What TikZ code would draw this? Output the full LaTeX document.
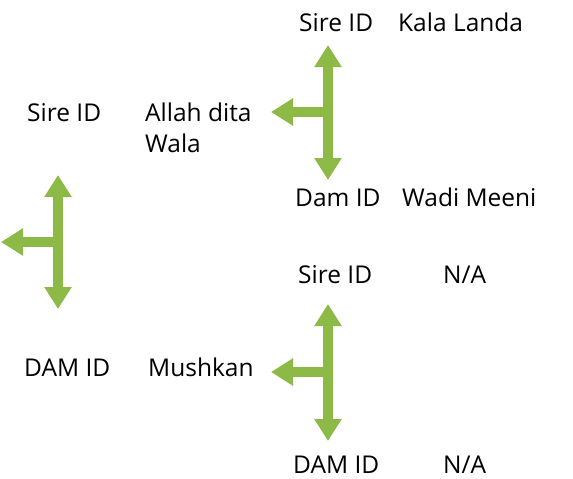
\documentclass[tikz,border=0pt]{standalone}
\usepackage{fontspec}
\setmainfont{Open Sans}
\usetikzlibrary{arrows.meta}
\definecolor{arrowgreen}{RGB}{141,185,70}
\begin{document}
\begin{tikzpicture}[x=1pt,y=-1pt,
  lbl/.style={anchor=base west,inner sep=0pt,font=\fontsize{24.5}{31}\selectfont},
  gshaft/.style={draw=arrowgreen,line width=10pt},
  garrow/.style={gshaft,-{Triangle[width=26pt,length=22pt]}},
  gdouble/.style={gshaft,{Triangle[width=26pt,length=22pt]}-{Triangle[width=26pt,length=22pt]}}]
\useasboundingbox (0,0) rectangle (573,479);
% texts
\node[lbl] (s1) at (299,31) {Sire ID};
\node[lbl] (n1) at (398,31) {Kala Landa};
\node[lbl] (s0) at (27,121) {Sire ID};
\node[lbl] (n0) at (145,121) {Allah dita};
\node[lbl] (n0b) at (145,152) {Wala};
\node[lbl] (d1) at (295,206) {Dam ID};
\node[lbl] (m1) at (402,206) {Wadi Meeni};
\node[lbl] (s2) at (298,283) {Sire ID};
\node[lbl] (n2) at (443,283) {N/A};
\node[lbl] (d0) at (24,376) {DAM ID};
\node[lbl] (m0) at (148,376) {Mushkan};
\node[lbl] (d2) at (293,473) {DAM ID};
\node[lbl] (m2) at (443,473) {N/A};
% arrow 1 (left)
\coordinate (a1t) at (58,175);
\coordinate (a1b) at (58,309);
\coordinate (a1j) at (58,242);
\coordinate (a1l) at (1,242);
\draw[gdouble] (a1t) -- (a1b);
\draw[garrow] (a1j) -- (a1l);
% arrow 2 (top)
\coordinate (a2t) at (328,45);
\coordinate (a2b) at (328,180);
\coordinate (a2j) at (328,112);
\coordinate (a2l) at (271,112);
\draw[gdouble] (a2t) -- (a2b);
\draw[garrow] (a2j) -- (a2l);
% arrow 3 (bottom)
\coordinate (a3t) at (328,304);
\coordinate (a3b) at (328,441);
\coordinate (a3j) at (328,372);
\coordinate (a3l) at (271,372);
\draw[gdouble] (a3t) -- (a3b);
\draw[garrow] (a3j) -- (a3l);
\end{tikzpicture}
\end{document}
